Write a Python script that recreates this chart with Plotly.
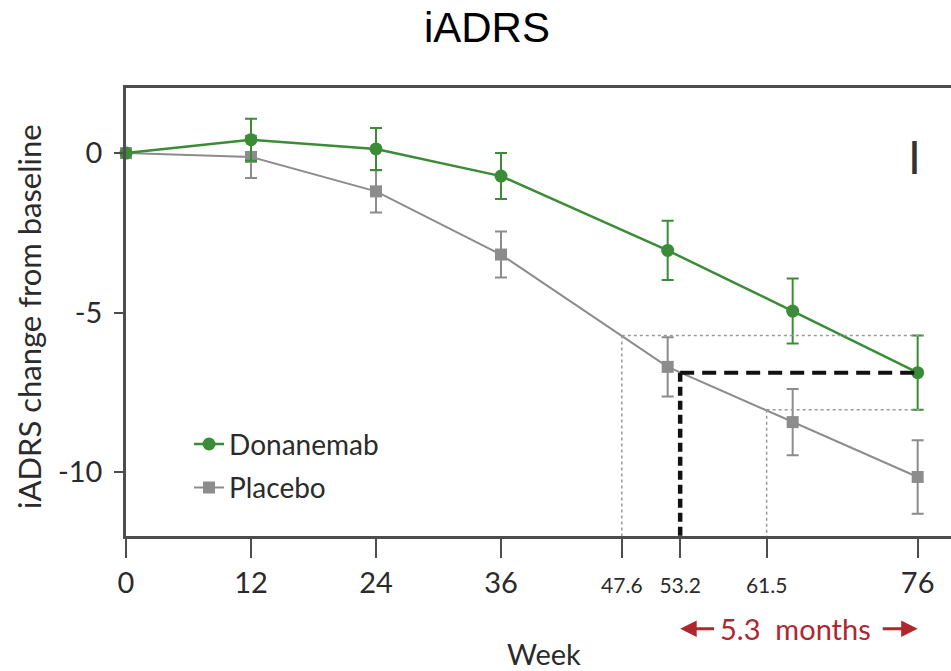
import plotly.graph_objects as go

# Weeks on study and mean iADRS change from baseline (± error)
weeks = [0, 12, 24, 36, 52, 64, 76]
donanemab = [0.0, 0.42, 0.13, -0.72, -3.05, -4.95, -6.88]
donanemab_err = [None, 0.66, 0.66, 0.72, 0.93, 1.02, 1.16]
placebo = [0.0, -0.12, -1.20, -3.18, -6.70, -8.43, -10.15]
placebo_err = [None, 0.66, 0.66, 0.72, 0.93, 1.04, 1.15]

# Axis ticks
x_tickvals = [0, 12, 24, 36, 47.6, 53.2, 61.5, 76]
x_ticktext = ["0", "12", "24", "36", "47.6", "53.2", "61.5", "76"]
y_tickvals = [0, -5, -10]
y_ticktext = ["0", "-5", "-10"]

# Weeks where placebo reaches the donanemab week-76 upper bound, mean and lower bound
wk_upper, wk_mean, wk_lower = 47.6, 53.2, 61.5

GREEN = "#3a8c36"
GRAY = "#8c8c8c"
AXIS = "#4d4d4d"
TEXT = "#2b2b2b"
RED = "#b0262f"
FONT = "Lato, Open Sans, sans-serif"

X_MAX = 79.2
Y_MIN, Y_MAX = -12.0, 2.04

fig = go.Figure()

fig.add_trace(go.Scatter(
    x=weeks, y=placebo, name="Placebo", mode="lines+markers",
    line=dict(color=GRAY, width=2),
    marker=dict(symbol="square", size=12, color=GRAY),
    error_y=dict(type="data", array=placebo_err, color=GRAY, thickness=2, width=6),
    cliponaxis=False, legendgroup="p", legendrank=2,
))
fig.add_trace(go.Scatter(
    x=weeks, y=donanemab, name="Donanemab", mode="lines+markers",
    line=dict(color=GREEN, width=2.5),
    marker=dict(symbol="circle", size=13, color=GREEN),
    error_y=dict(type="data", array=donanemab_err, color=GREEN, thickness=2, width=6),
    cliponaxis=False, legendgroup="d", legendrank=1,
))

d_end = donanemab[-1]
d_hi = donanemab[-1] + donanemab_err[-1]
d_lo = donanemab[-1] - donanemab_err[-1]
x_end = weeks[-1]

shapes = []
dotted = dict(color="#9a9a9a", width=1.5, dash="dot")
# confidence band of the week-76 donanemab value projected onto placebo
shapes.append(dict(type="line", xref="x", yref="y", x0=wk_upper, x1=x_end + 0.5,
                   y0=d_hi, y1=d_hi, line=dotted))
shapes.append(dict(type="line", xref="x", yref="y", x0=wk_upper, x1=wk_upper,
                   y0=d_hi, y1=Y_MIN, line=dotted))
shapes.append(dict(type="line", xref="x", yref="y", x0=wk_lower, x1=x_end + 0.5,
                   y0=d_lo, y1=d_lo, line=dotted))
shapes.append(dict(type="line", xref="x", yref="y", x0=wk_lower, x1=wk_lower,
                   y0=d_lo, y1=Y_MIN, line=dotted))
# mean projection
shapes.append(dict(type="line", xref="x", yref="y", x0=wk_mean, x1=x_end,
                   y0=d_end, y1=d_end, line=dict(color="#111111", width=4, dash="14px,8px")))
shapes.append(dict(type="line", xref="x", yref="y", x0=wk_mean, x1=wk_mean,
                   y0=d_end, y1=Y_MIN, line=dict(color="#111111", width=4.5, dash="9px,5px")))

ARROW_Y = -0.207
annotations = [
    # y-axis title
    dict(text="iADRS change from baseline", xref="paper", yref="paper",
         x=-0.117, y=0.49, xanchor="center", yanchor="middle", textangle=-90,
         showarrow=False, font=dict(family=FONT, size=31, color=TEXT)),
    # x-axis title
    dict(text="Week", xref="paper", yref="paper", x=0.507, y=-0.262,
         xanchor="center", yanchor="middle", showarrow=False,
         font=dict(family=FONT, size=29, color=TEXT)),
    # delay label with arrows
    dict(text="5.3  months", xref="x", yref="paper", x=64.3,
         y=ARROW_Y, xanchor="center", yanchor="middle", showarrow=False,
         font=dict(family=FONT, size=29, color=RED)),
    dict(text="", xref="x", yref="paper", x=wk_mean, y=ARROW_Y,
         axref="x", ayref="pixel", ax=wk_mean + 3.4, ay=0,
         showarrow=True, arrowhead=2, arrowsize=1.1, arrowwidth=3, arrowcolor=RED),
    dict(text="", xref="x", yref="paper", x=x_end, y=ARROW_Y,
         axref="x", ayref="pixel", ax=x_end - 3.5, ay=0,
         showarrow=True, arrowhead=2, arrowsize=1.1, arrowwidth=3, arrowcolor=RED),
    # panel mark
    dict(text="I", xref="x", yref="y", x=75.7, y=-0.11, xanchor="center",
         yanchor="middle", showarrow=False,
         font=dict(family=FONT, size=46, color="#333333")),
]

fig.update_layout(
    width=951, height=671,
    margin=dict(l=126, r=0, t=88, b=135),
    paper_bgcolor="white", plot_bgcolor="white",
    title=dict(text="iADRS", x=0.512, xref="container", xanchor="center",
               y=0.959, yref="container", yanchor="middle",
               font=dict(family="Liberation Sans, Arial, sans-serif", size=42, color="#000000")),
    showlegend=True,
    legend=dict(x=0.0764, y=0.2605, xanchor="left", yanchor="top",
                traceorder="grouped", tracegroupgap=4,
                bgcolor="rgba(0,0,0,0)",
                font=dict(family=FONT, size=28, color=TEXT)),
    shapes=shapes,
    annotations=annotations,
)

fig.update_xaxes(
    range=[0, X_MAX], showgrid=False, zeroline=False,
    showline=True, mirror=True, linecolor=AXIS, linewidth=2.5,
    ticks="outside", ticklen=19, tickwidth=2, tickcolor=AXIS,
    tickvals=x_tickvals,
    ticktext=[t if float(t).is_integer() else f"<span style='font-size:21px'>{t}</span>"
              for t in x_ticktext],
    tickfont=dict(family=FONT, size=29, color=TEXT),
    ticklabelstandoff=0,
)
fig.update_yaxes(
    range=[Y_MIN, Y_MAX], showgrid=False, zeroline=False,
    showline=True, linecolor=AXIS, linewidth=2.5,
    ticks="outside", ticklen=9, tickwidth=2, tickcolor=AXIS,
    tickvals=y_tickvals, ticktext=y_ticktext,
    tickfont=dict(family=FONT, size=29, color=TEXT),
    ticklabelstandoff=6,
)

fig.write_html("out.html")
